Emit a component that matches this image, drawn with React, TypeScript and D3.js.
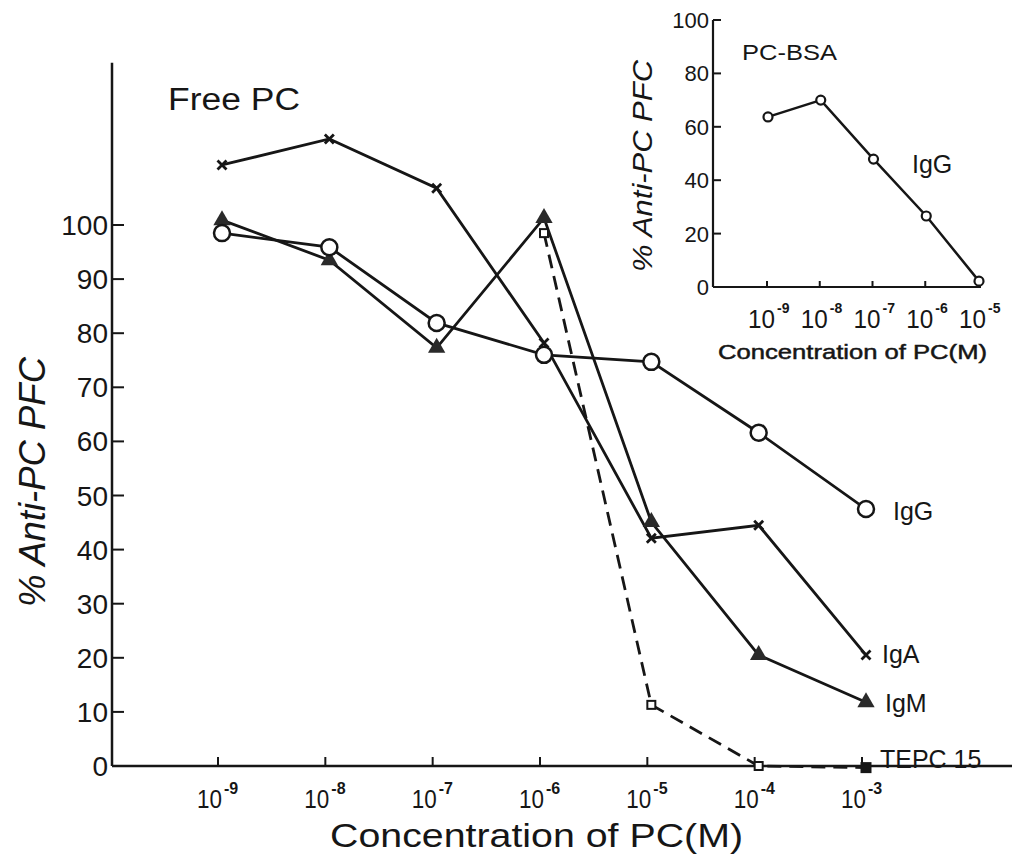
import { useRef, useEffect } from "react";
import * as d3 from "d3";

// main panel: free PC
const concentrations = [1e-9, 1e-8, 1e-7, 1e-6, 1e-5, 1e-4, 1e-3];
const igG = [98.5, 95.9, 81.9, 76.0, 74.7, 61.6, 47.5];
const igA = [111.1, 115.9, 106.8, 78.2, 42.1, 44.5, 20.5];
const igM = [100.9, 93.5, 77.3, 101.3, 45.1, 20.5, 11.8];
const tepcConc = [1e-6, 1e-5, 1e-4, 1e-3];
const tepc15 = [98.5, 11.3, 0, -0.3];
const yTicks = [0, 10, 20, 30, 40, 50, 60, 70, 80, 90, 100];
const xExponents = [-9, -8, -7, -6, -5, -4, -3];

// inset: PC-BSA
const insetConc = [1e-9, 1e-8, 1e-7, 1e-6, 1e-5];
const insetIgG = [63.7, 70.0, 47.9, 26.6, 2.2];
const insetYTicks = [0, 20, 40, 60, 80, 100];
const insetExponents = [-9, -8, -7, -6, -5];

const INK = "#161616";
const FONT = "'Liberation Sans', Arial, sans-serif";

function App() {
  const svgRef = useRef(null);

  useEffect(() => {
    const svg = d3.select(svgRef.current);
    svg.selectAll("*").remove();

    // ---------- main chart ----------
    const x = d3.scaleLog().domain([1e-9, 1e-3]).range([222, 866]);
    const y = d3.scaleLinear().domain([0, 100]).range([766, 225]);
    const axisX = 112;
    const axisY = y(0);

    const g = svg.append("g");

    // axes
    g.append("line")
      .attr("x1", axisX).attr("x2", axisX)
      .attr("y1", y(130)).attr("y2", axisY)
      .attr("stroke", INK).attr("stroke-width", 2.5);
    g.append("line")
      .attr("x1", axisX).attr("x2", 1012)
      .attr("y1", axisY).attr("y2", axisY)
      .attr("stroke", INK).attr("stroke-width", 2.5);

    // y ticks (inward)
    yTicks.forEach((t) => {
      g.append("line")
        .attr("x1", axisX).attr("x2", axisX + 12)
        .attr("y1", y(t)).attr("y2", y(t))
        .attr("stroke", INK).attr("stroke-width", 2);
      g.append("text")
        .attr("x", 108).attr("y", y(t) + 10)
        .attr("text-anchor", "end")
        .attr("font-family", FONT).attr("font-size", 28)
        .attr("fill", INK)
        .text(t);
    });

    // x ticks
    xExponents.forEach((e) => {
      const tx = x(Math.pow(10, e)) - 4;
      g.append("line")
        .attr("x1", tx).attr("x2", tx)
        .attr("y1", axisY).attr("y2", axisY - 9)
        .attr("stroke", INK).attr("stroke-width", 2);
      g.append("text")
        .attr("x", tx + 4).attr("y", 808)
        .attr("text-anchor", "end")
        .attr("font-family", FONT).attr("font-size", 25)
        .attr("textLength", 25).attr("lengthAdjust", "spacingAndGlyphs")
        .attr("fill", INK)
        .text("10");
      g.append("text")
        .attr("x", tx + 6).attr("y", 794)
        .attr("font-family", FONT).attr("font-size", 16)
        .attr("font-weight", "bold")
        .attr("fill", INK)
        .text(String(e));
    });

    // axis titles
    g.append("text")
      .attr("x", 330).attr("y", 847)
      .attr("font-family", FONT).attr("font-size", 34)
      .attr("textLength", 413).attr("lengthAdjust", "spacingAndGlyphs")
      .attr("fill", INK)
      .text("Concentration of PC(M)");
    g.append("text")
      .attr("transform", "translate(45, 482) rotate(-90)")
      .attr("text-anchor", "middle")
      .attr("font-family", FONT).attr("font-size", 36)
      .attr("font-style", "italic")
      .attr("textLength", 250).attr("lengthAdjust", "spacingAndGlyphs")
      .attr("fill", INK)
      .text("% Anti-PC PFC");
    g.append("text")
      .attr("x", 168).attr("y", 110)
      .attr("font-family", FONT).attr("font-size", 31)
      .attr("textLength", 132).attr("lengthAdjust", "spacingAndGlyphs")
      .attr("fill", INK)
      .text("Free PC");

    // series lines
    const line = d3.line().x((d) => x(d[0])).y((d) => y(d[1]));
    const pairs = (xs, ys) => xs.map((c, i) => [c, ys[i]]);

    const igGPts = pairs(concentrations, igG);
    const igAPts = pairs(concentrations, igA);
    const igMPts = pairs(concentrations, igM);
    const tepcPts = pairs(tepcConc, tepc15);

    [igGPts, igAPts, igMPts].forEach((pts) => {
      g.append("path")
        .attr("d", line(pts))
        .attr("fill", "none")
        .attr("stroke", INK)
        .attr("stroke-width", 2.8);
    });
    g.append("path")
      .attr("d", line(tepcPts))
      .attr("fill", "none")
      .attr("stroke", INK)
      .attr("stroke-width", 2.8)
      .attr("stroke-dasharray", "14,8");

    // markers
    const tri = d3.symbol().type(d3.symbolTriangle).size(130);
    igMPts.forEach((d) => {
      g.append("path")
        .attr("d", tri())
        .attr("transform", `translate(${x(d[0])},${y(d[1])})`)
        .attr("fill", "#2a2a2a");
    });
    tepcPts.forEach((d, i) => {
      const last = i === tepcPts.length - 1;
      const s = last ? 9 : 8;
      g.append("rect")
        .attr("x", x(d[0]) - s / 2).attr("y", y(d[1]) - s / 2)
        .attr("width", s).attr("height", s)
        .attr("fill", last ? INK : "#fff")
        .attr("stroke", INK).attr("stroke-width", 2);
    });
    igGPts.forEach((d) => {
      g.append("circle")
        .attr("cx", x(d[0])).attr("cy", y(d[1]))
        .attr("r", 8)
        .attr("fill", "#fff")
        .attr("stroke", INK).attr("stroke-width", 2.5);
    });
    igAPts.forEach((d) => {
      const cx = x(d[0]);
      const cy = y(d[1]);
      const h = 4.5;
      g.append("path")
        .attr("d", `M${cx - h},${cy - h}L${cx + h},${cy + h}M${cx - h},${cy + h}L${cx + h},${cy - h}`)
        .attr("stroke", INK).attr("stroke-width", 2.8);
    });

    // series labels
    const labels = [
      { text: "IgG", x: 893, y: 520 },
      { text: "IgA", x: 882, y: 663 },
      { text: "IgM", x: 885, y: 712 },
      { text: "TEPC 15", x: 880, y: 768 },
    ];
    labels.forEach((l) => {
      g.append("text")
        .attr("x", l.x).attr("y", l.y)
        .attr("font-family", FONT).attr("font-size", 25)
        .attr("fill", INK)
        .text(l.text);
    });

    // ---------- inset ----------
    const ix = d3.scaleLog().domain([1e-9, 1e-5]).range([768, 979]);
    const iy = d3.scaleLinear().domain([0, 100]).range([287, 20]);
    const ia = svg.append("g");
    const iAxisX = 713;

    ia.append("line")
      .attr("x1", iAxisX).attr("x2", iAxisX)
      .attr("y1", iy(100)).attr("y2", iy(0))
      .attr("stroke", INK).attr("stroke-width", 2.2);
    ia.append("line")
      .attr("x1", iAxisX).attr("x2", 981)
      .attr("y1", iy(0)).attr("y2", iy(0))
      .attr("stroke", INK).attr("stroke-width", 2.2);

    insetYTicks.forEach((t) => {
      ia.append("line")
        .attr("x1", iAxisX).attr("x2", iAxisX + 8)
        .attr("y1", iy(t)).attr("y2", iy(t))
        .attr("stroke", INK).attr("stroke-width", 2);
      ia.append("text")
        .attr("x", 709).attr("y", iy(t) + 8)
        .attr("text-anchor", "end")
        .attr("font-family", FONT).attr("font-size", 22)
        .attr("fill", INK)
        .text(t);
    });

    insetExponents.forEach((e) => {
      const tx = ix(Math.pow(10, e)) - 1;
      ia.append("line")
        .attr("x1", tx).attr("x2", tx)
        .attr("y1", iy(0)).attr("y2", iy(0) - 6)
        .attr("stroke", INK).attr("stroke-width", 2);
      ia.append("text")
        .attr("x", tx + 8).attr("y", 328)
        .attr("text-anchor", "end")
        .attr("font-family", FONT).attr("font-size", 25)
        .attr("textLength", 27).attr("lengthAdjust", "spacingAndGlyphs")
        .attr("fill", INK)
        .text("10");
      ia.append("text")
        .attr("x", tx + 10).attr("y", 313)
        .attr("font-family", FONT).attr("font-size", 14)
        .attr("font-weight", "bold")
        .attr("fill", INK)
        .text(String(e));
    });

    ia.append("text")
      .attr("x", 718).attr("y", 359)
      .attr("font-family", FONT).attr("font-size", 21)
      .attr("stroke", INK).attr("stroke-width", 0.5)
      .attr("textLength", 269).attr("lengthAdjust", "spacingAndGlyphs")
      .attr("fill", INK)
      .text("Concentration of PC(M)");
    ia.append("text")
      .attr("transform", "translate(652, 166) rotate(-90)")
      .attr("text-anchor", "middle")
      .attr("font-family", FONT).attr("font-size", 28)
      .attr("font-style", "italic")
      .attr("textLength", 212).attr("lengthAdjust", "spacingAndGlyphs")
      .attr("fill", INK)
      .text("% Anti-PC PFC");
    ia.append("text")
      .attr("x", 742).attr("y", 60)
      .attr("font-family", FONT).attr("font-size", 22)
      .attr("textLength", 95).attr("lengthAdjust", "spacingAndGlyphs")
      .attr("fill", INK)
      .text("PC-BSA");
    ia.append("text")
      .attr("x", 912).attr("y", 173)
      .attr("font-family", FONT).attr("font-size", 25)
      .attr("fill", INK)
      .text("IgG");

    const insetPts = pairs(insetConc, insetIgG);
    const iline = d3.line().x((d) => ix(d[0])).y((d) => iy(d[1]));
    ia.append("path")
      .attr("d", iline(insetPts))
      .attr("fill", "none")
      .attr("stroke", INK)
      .attr("stroke-width", 2.5);
    insetPts.forEach((d) => {
      ia.append("circle")
        .attr("cx", ix(d[0])).attr("cy", iy(d[1]))
        .attr("r", 4.5)
        .attr("fill", "#fff")
        .attr("stroke", INK).attr("stroke-width", 2.2);
    });
  }, []);

  return (
    <svg
      ref={svgRef}
      width={1021}
      height={862}
      style={{ position: "absolute", left: 0, top: 0, background: "#fff" }}
    ></svg>
  );
}

export default App;
